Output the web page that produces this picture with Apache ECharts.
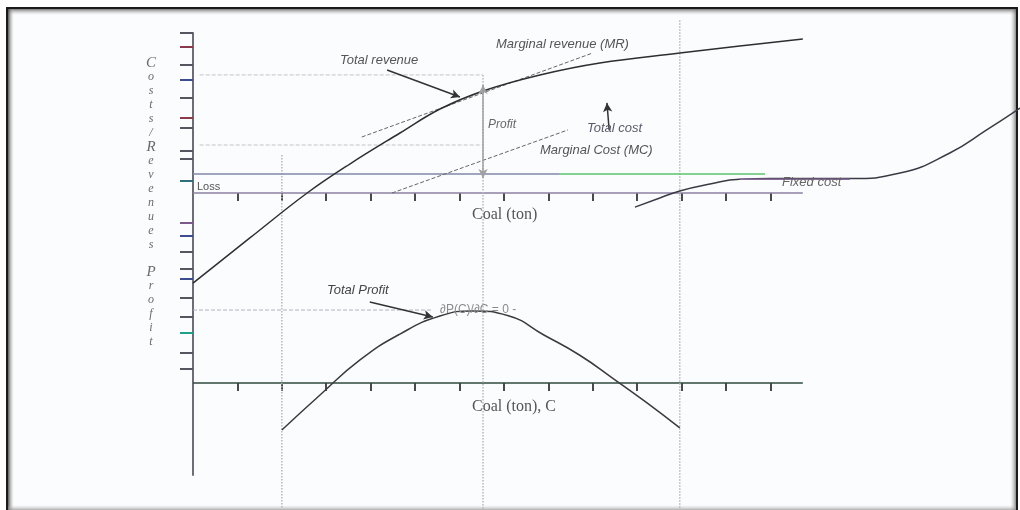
<!DOCTYPE html>
<html>
<head>
<meta charset="utf-8">
<script src="https://cdn.jsdelivr.net/npm/echarts@6/dist/echarts.min.js"></script>
<style>
html,body{margin:0;padding:0;background:#fff;}
#eChart{width:1020px;height:510px;}
</style>
</head>
<body>
<div id="eChart"></div>
<script>
// coal axis ticks (both panels)
var coalTicks = [1,2,3,4,5,6,7,8,9,10,11,12,13];
var coalAxisEnd = 13.73;
// left axis ticks, cost/revenue panel (some are coloured in the scan)
var costTicks = [10, 8, 5.94, 4.06, 2.63, 2.13, -3.69, -4.75];
var costTicksRed = [9.13, 4.69];
var costTicksBlue = [7.06, -2.69, -5.38];
var costTicksTeal = [0.75];
var costTicksPurple = [-1.88];
// left axis ticks, profit panel
var profitTicks = [5.31, 4.13, 1.88, 0.88];
var profitTicksTeal = [3.13];

// curves, [coal, value]
var totalRevenue = [[0,-5.63],[1.28,-2.81],[2.57,0],[3.53,1.81],[4.66,3.75],[5.56,5.25],[6.53,6.38],[7.81,7.38],[9.16,8.13],[10.96,8.75],[12.31,9.19],[13.73,9.63]];
var marginalRevenue = [[3.8,3.5],[9.0,8.75]];
var marginalCost = [[4.48,0],[8.44,3.94]];
var priceLine = [[0,1.19],[8.26,1.19]];
var priceLineGreen = [[8.26,1.19],[12.88,1.19]];
var totalCost = [[9.95,-0.88],[10.51,-0.31],[10.96,0.13],[11.64,0.56],[12.31,0.86],[13.0,0.9],[14.0,0.9],[14.79,0.9],[15.92,1.25],[17.04,2.5],[17.87,3.94],[18.62,5.31]];
var fixedCost = [[12.31,0.86],[14.79,0.86]];
var guideHigh = [[0.15,7.38],[6.53,7.38]];
var guideLow = [[0.15,3],[6.53,3]];
var dropLeft = [[2,2.38],[2,-20]];
var dropMid = [[6.53,7.38],[6.53,-20]];
var dropRight = [[10.96,10.8],[10.96,-20]];

var totalProfit = [[2,-2.94],[2.86,-0.75],[3.76,1.44],[4.66,3.06],[5.56,4.19],[6.3,4.5],[7.1,4.2],[7.9,3.0],[8.7,1.75],[9.5,0.2],[10.2,-1.2],[10.96,-2.81]];
var profitGuide = [[0,4.56],[5.4,4.56]];

var chart = echarts.init(document.getElementById('eChart'));

function seg(data, color, width, type, yi, smooth) {
    return {
        type: 'line', data: data,
        xAxisIndex: yi >= 5 ? 1 : 0, yAxisIndex: yi || 0,
        symbol: 'none', clip: false, silent: true,
        smooth: smooth || false,
        lineStyle: {color: color, width: width, type: type || 'solid'}
    };
}

function arrow(from, to, color, both, yi) {
    return {
        type: 'line', data: [], xAxisIndex: yi >= 5 ? 1 : 0, yAxisIndex: yi || 0,
        silent: true,
        markLine: {
            silent: true, animation: false,
            symbol: [both ? 'arrow' : 'none', 'arrow'], symbolSize: [7, 9],
            label: {show: false},
            lineStyle: {color: color, width: 1.5, type: 'solid'},
            data: [[{coord: from}, {coord: to}]]
        }
    };
}

function yAx(grid, min, max, ticks, color, showLine) {
    return {
        type: 'value', gridIndex: grid, min: min, max: max, position: 'left', offset: 0,
        axisLine: {show: !!showLine, lineStyle: {color: '#6d6d78', width: 2}},
        axisTick: {show: true, customValues: ticks, length: 13, lineStyle: {color: color, width: 2}},
        axisLabel: {show: false},
        splitLine: {show: false}
    };
}

// the grid runs to the right edge so the total cost curve can leave the axis;
// the visible axis line itself is drawn as a series ending at coalAxisEnd
function xAx(grid) {
    return {
        type: 'value', gridIndex: grid, min: 0, max: 18.62,
        axisLine: {show: false, onZero: true},
        axisTick: {show: true, customValues: coalTicks, length: 8, lineStyle: {color: '#4a4a4a', width: 2}},
        axisLabel: {show: false},
        splitLine: {show: false}
    };
}

function txt(s, x, y, font, color, align) {
    return {
        type: 'text', x: x, y: y, z: 100, silent: true,
        style: {text: s, font: font, fill: color, textAlign: align || 'left', textVerticalAlign: 'middle'}
    };
}

var sansI = 'italic 13px "Liberation Sans", Arial, sans-serif';
var serif = '16px "Liberation Serif", "DejaVu Serif", serif';

var graphics = [
    {type: 'rect', z: -20, silent: true, shape: {x: 0, y: 0, width: 1020, height: 510}, style: {fill: '#ffffff'}},
    {type: 'rect', z: -19, silent: true, shape: {x: 7, y: 8, width: 1010, height: 506}, style: {fill: '#fbfcfd', stroke: '#1a1a1a', lineWidth: 2}},
    {type: 'rect', z: -18, silent: true, shape: {x: 8, y: 9, width: 1008, height: 6},
        style: {fill: new echarts.graphic.LinearGradient(0, 0, 0, 1, [{offset: 0, color: 'rgba(90,90,90,0.8)'}, {offset: 1, color: 'rgba(200,200,200,0)'}])}},
    {type: 'rect', z: -18, silent: true, shape: {x: 8, y: 9, width: 6, height: 501},
        style: {fill: new echarts.graphic.LinearGradient(0, 0, 1, 0, [{offset: 0, color: 'rgba(70,70,70,0.9)'}, {offset: 1, color: 'rgba(200,200,200,0)'}])}},
    {type: 'rect', z: -18, silent: true, shape: {x: 1010, y: 9, width: 6, height: 501},
        style: {fill: new echarts.graphic.LinearGradient(1, 0, 0, 0, [{offset: 0, color: 'rgba(90,90,90,0.7)'}, {offset: 1, color: 'rgba(200,200,200,0)'}])}},
    {type: 'rect', z: -18, silent: true, shape: {x: 8, y: 505, width: 1008, height: 5},
        style: {fill: new echarts.graphic.LinearGradient(0, 1, 0, 0, [{offset: 0, color: 'rgba(140,140,140,0.7)'}, {offset: 1, color: 'rgba(200,200,200,0)'}])}},

    txt('Total revenue', 340, 60, sansI, '#555'),
    txt('Marginal revenue (MR)', 496, 44, sansI, '#555'),
    txt('Profit', 488, 125, 'italic 12px "Liberation Sans", Arial, sans-serif', '#666'),
    txt('Total cost', 587, 128, sansI, '#5a5a6a'),
    txt('Marginal Cost (MC)', 540, 150, sansI, '#555'),
    txt('Loss', 197, 187, '11px "Liberation Sans", Arial, sans-serif', '#555'),
    txt('Fixed cost', 782, 182, sansI, '#666'),
    txt('Coal (ton)', 472, 215, serif, '#555'),
    txt('Coal (ton), C', 472, 407, serif, '#555'),
    txt('Total Profit', 327, 290, sansI, '#444'),
    txt('\u2202P(C)/\u2202C = 0 -', 440, 310, '12px "Liberation Sans", Arial, sans-serif', '#8a8a8a')
];

// stacked axis title
var axisWord = 'Costs/Revenues Profit';
for (var i = 0; i < axisWord.length; i++) {
    var ch = axisWord.charAt(i);
    if (ch === ' ') continue;
    var big = (ch === 'C' || ch === 'R' || ch === 'P');
    graphics.push(txt(ch, 151, 63 + i * 13.95,
        'italic ' + (big ? 15 : 12) + 'px "Liberation Serif", "DejaVu Serif", serif', '#6a6a6a', 'center'));
}

var option = {
    animation: false,
    backgroundColor: 'transparent',
    grid: [
        {left: 193, top: 33, width: 827, height: 254, outerBoundsMode: 'none'},
        {left: 193, top: 287, width: 827, height: 188, outerBoundsMode: 'none'}
    ],
    xAxis: [xAx(0), xAx(1)],
    yAxis: [
        yAx(0, -5.875, 10, costTicks, '#55565f', true),
        yAx(0, -5.875, 10, costTicksRed, '#8a3a4a'),
        yAx(0, -5.875, 10, costTicksBlue, '#3c4c8c'),
        yAx(0, -5.875, 10, costTicksTeal, '#2f6f7a'),
        yAx(0, -5.875, 10, costTicksPurple, '#7a5a8c'),
        yAx(1, -5.75, 6, profitTicks, '#55565f', true),
        yAx(1, -5.75, 6, profitTicksTeal, '#1fa08c')
    ],
    graphic: graphics,
    series: [
        seg([[0, 0], [coalAxisEnd, 0]], '#8c80a0', 1.5, 'solid', 0),
        seg([[0, 0], [coalAxisEnd, 0]], '#2f4a3c', 1.5, 'solid', 5),
        seg(dropLeft, '#b8b8b8', 1.5, 'dotted', 0),
        seg(dropMid, '#b8b8b8', 1.5, 'dotted', 0),
        seg(dropRight, '#b8b8b8', 1.5, 'dotted', 0),
        seg(guideHigh, '#c4c4c4', 1, 'dashed', 0),
        seg(guideLow, '#c4c4c4', 1, 'dashed', 0),
        seg(priceLine, '#8088aa', 1.5, 'solid', 0),
        seg(priceLineGreen, '#5cc46a', 1.5, 'solid', 0),
        seg(marginalRevenue, '#666', 1, 'dashed', 0),
        seg(marginalCost, '#666', 1, 'dashed', 0),
        seg(totalRevenue, '#2e2e2e', 1.5, 'solid', 0, 0.4),
        seg(totalCost, '#3a3a44', 1.5, 'solid', 0, 0.5),
        seg(fixedCost, '#8a6a9a', 1.5, 'solid', 0),
        arrow([6.53, 6.75], [6.53, 0.94], '#a0a0a0', true, 0),
        arrow([9.37, 3.94], [9.32, 5.63], '#333', false, 0),
        arrow([4.37, 7.69], [6.01, 6.0], '#333', false, 0),
        seg(profitGuide, '#b0b0c0', 1, 'dashed', 5),
        seg(totalProfit, '#3a3a3a', 1.5, 'solid', 5, 0.5),
        arrow([3.98, 5.06], [5.4, 4.13], '#333', false, 5)
    ]
};
chart.setOption(option);
</script>
</body>
</html>
